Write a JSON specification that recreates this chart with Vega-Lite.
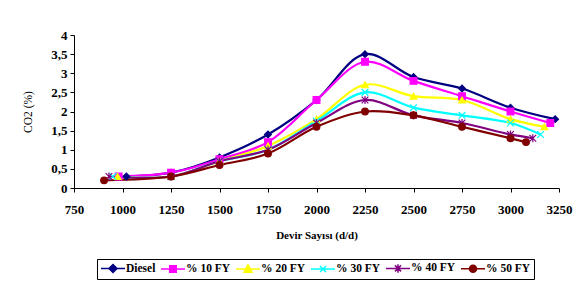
{
  "$schema": "https://vega.github.io/schema/vega-lite/v6.json",
  "width": 485,
  "height": 153,
  "padding": {"left": 22, "top": 29, "right": 22, "bottom": 5},
  "background": "white",
  "config": {
    "view": {"stroke": null},
    "font": "Liberation Serif",
    "axis": {"domainColor": "black", "tickColor": "black", "grid": false, "labelFont": "Liberation Serif", "labelFontWeight": "bold", "labelFontSize": 13, "labelColor": "black", "titleFont": "Liberation Serif", "titleColor": "black", "tickSize": 4, "labelFlush": false}
  },
  "data": {"values": [
    {"series": "Diesel", "rpm": 1020, "co2": 0.3},
    {"series": "Diesel", "rpm": 1250, "co2": 0.4},
    {"series": "Diesel", "rpm": 1500, "co2": 0.8},
    {"series": "Diesel", "rpm": 1750, "co2": 1.4},
    {"series": "Diesel", "rpm": 2000, "co2": 2.3},
    {"series": "Diesel", "rpm": 2250, "co2": 3.5},
    {"series": "Diesel", "rpm": 2500, "co2": 2.9},
    {"series": "Diesel", "rpm": 2750, "co2": 2.6},
    {"series": "Diesel", "rpm": 3000, "co2": 2.1},
    {"series": "Diesel", "rpm": 3230, "co2": 1.8},
    {"series": "% 10 FY", "rpm": 980, "co2": 0.3},
    {"series": "% 10 FY", "rpm": 1250, "co2": 0.4},
    {"series": "% 10 FY", "rpm": 1500, "co2": 0.75},
    {"series": "% 10 FY", "rpm": 1750, "co2": 1.2},
    {"series": "% 10 FY", "rpm": 2000, "co2": 2.3},
    {"series": "% 10 FY", "rpm": 2250, "co2": 3.3},
    {"series": "% 10 FY", "rpm": 2500, "co2": 2.8},
    {"series": "% 10 FY", "rpm": 2750, "co2": 2.4},
    {"series": "% 10 FY", "rpm": 3000, "co2": 2.0},
    {"series": "% 10 FY", "rpm": 3205, "co2": 1.7},
    {"series": "% 20 FY", "rpm": 975, "co2": 0.3},
    {"series": "% 20 FY", "rpm": 1250, "co2": 0.3},
    {"series": "% 20 FY", "rpm": 1500, "co2": 0.7},
    {"series": "% 20 FY", "rpm": 1750, "co2": 1.1},
    {"series": "% 20 FY", "rpm": 2000, "co2": 1.8},
    {"series": "% 20 FY", "rpm": 2250, "co2": 2.7},
    {"series": "% 20 FY", "rpm": 2500, "co2": 2.4},
    {"series": "% 20 FY", "rpm": 2750, "co2": 2.3},
    {"series": "% 20 FY", "rpm": 3000, "co2": 1.8},
    {"series": "% 20 FY", "rpm": 3175, "co2": 1.6},
    {"series": "% 30 FY", "rpm": 950, "co2": 0.3},
    {"series": "% 30 FY", "rpm": 1250, "co2": 0.3},
    {"series": "% 30 FY", "rpm": 1500, "co2": 0.7},
    {"series": "% 30 FY", "rpm": 1750, "co2": 1.0},
    {"series": "% 30 FY", "rpm": 2000, "co2": 1.75},
    {"series": "% 30 FY", "rpm": 2250, "co2": 2.5},
    {"series": "% 30 FY", "rpm": 2500, "co2": 2.1},
    {"series": "% 30 FY", "rpm": 2750, "co2": 1.9},
    {"series": "% 30 FY", "rpm": 3000, "co2": 1.7},
    {"series": "% 30 FY", "rpm": 3155, "co2": 1.4},
    {"series": "% 40 FY", "rpm": 930, "co2": 0.3},
    {"series": "% 40 FY", "rpm": 1250, "co2": 0.3},
    {"series": "% 40 FY", "rpm": 1500, "co2": 0.7},
    {"series": "% 40 FY", "rpm": 1750, "co2": 1.0},
    {"series": "% 40 FY", "rpm": 2000, "co2": 1.7},
    {"series": "% 40 FY", "rpm": 2250, "co2": 2.3},
    {"series": "% 40 FY", "rpm": 2500, "co2": 1.9},
    {"series": "% 40 FY", "rpm": 2750, "co2": 1.7},
    {"series": "% 40 FY", "rpm": 3000, "co2": 1.4},
    {"series": "% 40 FY", "rpm": 3115, "co2": 1.3},
    {"series": "% 50 FY", "rpm": 905, "co2": 0.2},
    {"series": "% 50 FY", "rpm": 1250, "co2": 0.3},
    {"series": "% 50 FY", "rpm": 1500, "co2": 0.6},
    {"series": "% 50 FY", "rpm": 1750, "co2": 0.9},
    {"series": "% 50 FY", "rpm": 2000, "co2": 1.6},
    {"series": "% 50 FY", "rpm": 2250, "co2": 2.0},
    {"series": "% 50 FY", "rpm": 2500, "co2": 1.9},
    {"series": "% 50 FY", "rpm": 2750, "co2": 1.6},
    {"series": "% 50 FY", "rpm": 3000, "co2": 1.3},
    {"series": "% 50 FY", "rpm": 3080, "co2": 1.2}
  ]},
  "encoding": {
    "x": {"field": "rpm", "type": "quantitative", "scale": {"domain": [750, 3250]},
      "axis": {"values": [750, 1000, 1250, 1500, 1750, 2000, 2250, 2500, 2750, 3000, 3250], "format": "d", "labelPadding": 11, "title": "Devir Sayısı (d/d)", "titleFontSize": 11, "titleFontWeight": "bold", "titlePadding": 13}},
    "y": {"field": "co2", "type": "quantitative", "scale": {"domain": [0, 4]},
      "axis": {"values": [0, 0.5, 1, 1.5, 2, 2.5, 3, 3.5, 4], "labelExpr": "replace(format(datum.value, '.1~f'), '.', ',')", "labelPadding": 3, "title": "CO2 (%)", "titleFontSize": 11.5, "titleFontWeight": "normal", "titlePadding": 17}}
  },
  "layer": [
    {
      "mark": {"type": "line", "interpolate": "catmull-rom"},
      "encoding": {
        "color": {"field": "series", "type": "nominal", "legend": null,
          "scale": {"domain": ["Diesel", "% 10 FY", "% 20 FY", "% 30 FY", "% 40 FY", "% 50 FY"], "range": ["#000080", "#FF00FF", "#FFFF00", "#00FFFF", "#800080", "#800000"]}},
        "strokeWidth": {"field": "series", "type": "nominal", "legend": null,
          "scale": {"domain": ["Diesel", "% 10 FY", "% 20 FY", "% 30 FY", "% 40 FY", "% 50 FY"], "range": [2.2, 2.2, 2.2, 1.2, 2.2, 2.2]}}
      }
    },
    {
      "mark": {"type": "point", "filled": true, "size": 45, "strokeWidth": 1.2, "opacity": 1},
      "encoding": {
        "color": {"field": "series", "type": "nominal", "legend": null,
          "scale": {"domain": ["Diesel", "% 10 FY", "% 20 FY", "% 30 FY", "% 40 FY", "% 50 FY"], "range": ["#000080", "#FF00FF", "#FFFF00", "#00FFFF", "#800080", "#800000"]}},
        "stroke": {"field": "series", "type": "nominal", "legend": null,
          "scale": {"domain": ["Diesel", "% 10 FY", "% 20 FY", "% 30 FY", "% 40 FY", "% 50 FY"], "range": ["#000080", "#FF00FF", "#FFFF00", "#00FFFF", "#800080", "#800000"]}},
        "shape": {"field": "series", "type": "nominal", "legend": null,
          "scale": {"domain": ["Diesel", "% 10 FY", "% 20 FY", "% 30 FY", "% 40 FY", "% 50 FY"], "range": ["diamond", "square", "triangle-up", "M-1,-1L1,1M1,-1L-1,1", "M-1,-1L1,1M1,-1L-1,1M0,-1.2V1.2", "circle"]}}
      }
    },
    {
      "mark": {"type": "point", "filled": true, "size": 100, "strokeWidth": 1.5, "opacity": 0},
      "encoding": {
        "fill": {"field": "series", "type": "nominal", "title": null,
          "scale": {"domain": ["Diesel", "% 10 FY", "% 20 FY", "% 30 FY", "% 40 FY", "% 50 FY"], "range": ["#000080", "#FF00FF", "#FFFF00", "#00FFFF", "#800080", "#800000"]}},
        "stroke": {"field": "series", "type": "nominal", "title": null,
          "scale": {"domain": ["Diesel", "% 10 FY", "% 20 FY", "% 30 FY", "% 40 FY", "% 50 FY"], "range": ["#000080", "#FF00FF", "#FFFF00", "#00FFFF", "#800080", "#800000"]}},
        "shape": {"field": "series", "type": "nominal", "title": null,
          "scale": {"domain": ["Diesel", "% 10 FY", "% 20 FY", "% 30 FY", "% 40 FY", "% 50 FY"], "range": [
            "M-2.4,0H2.4M0,-0.8L0.8,0L0,0.8L-0.8,0Z",
            "M-2.4,0H2.4M-0.65,-0.65H0.65V0.65H-0.65Z",
            "M-2.4,0H2.4M0,-0.8L0.8,0.65H-0.8Z",
            "M-2.4,0H2.4M-0.6,-0.6L0.6,0.6M0.6,-0.6L-0.6,0.6",
            "M-2.4,0H2.4M-0.6,-0.6L0.6,0.6M0.6,-0.6L-0.6,0.6M0,-0.85V0.85",
            "M-2.4,0H2.4M0.7,0A0.7,0.7,0,1,1,-0.7,0A0.7,0.7,0,1,1,0.7,0Z"
          ]},
          "legend": {"orient": "none", "legendX": 23, "legendY": 224, "direction": "horizontal", "columns": 6,
            "strokeColor": "black", "padding": 3, "symbolOpacity": 1, "symbolSize": 100, "symbolStrokeWidth": 1.5,
            "symbolOffset": 7, "labelOffset": 7, "columnPadding": 2,
            "labelFont": "Liberation Serif", "labelFontWeight": "bold", "labelFontSize": 11.5, "labelColor": "black"}}
      }
    }
  ],
  "resolve": {"scale": {"shape": "independent", "fill": "independent", "stroke": "independent", "color": "independent"}}
}
